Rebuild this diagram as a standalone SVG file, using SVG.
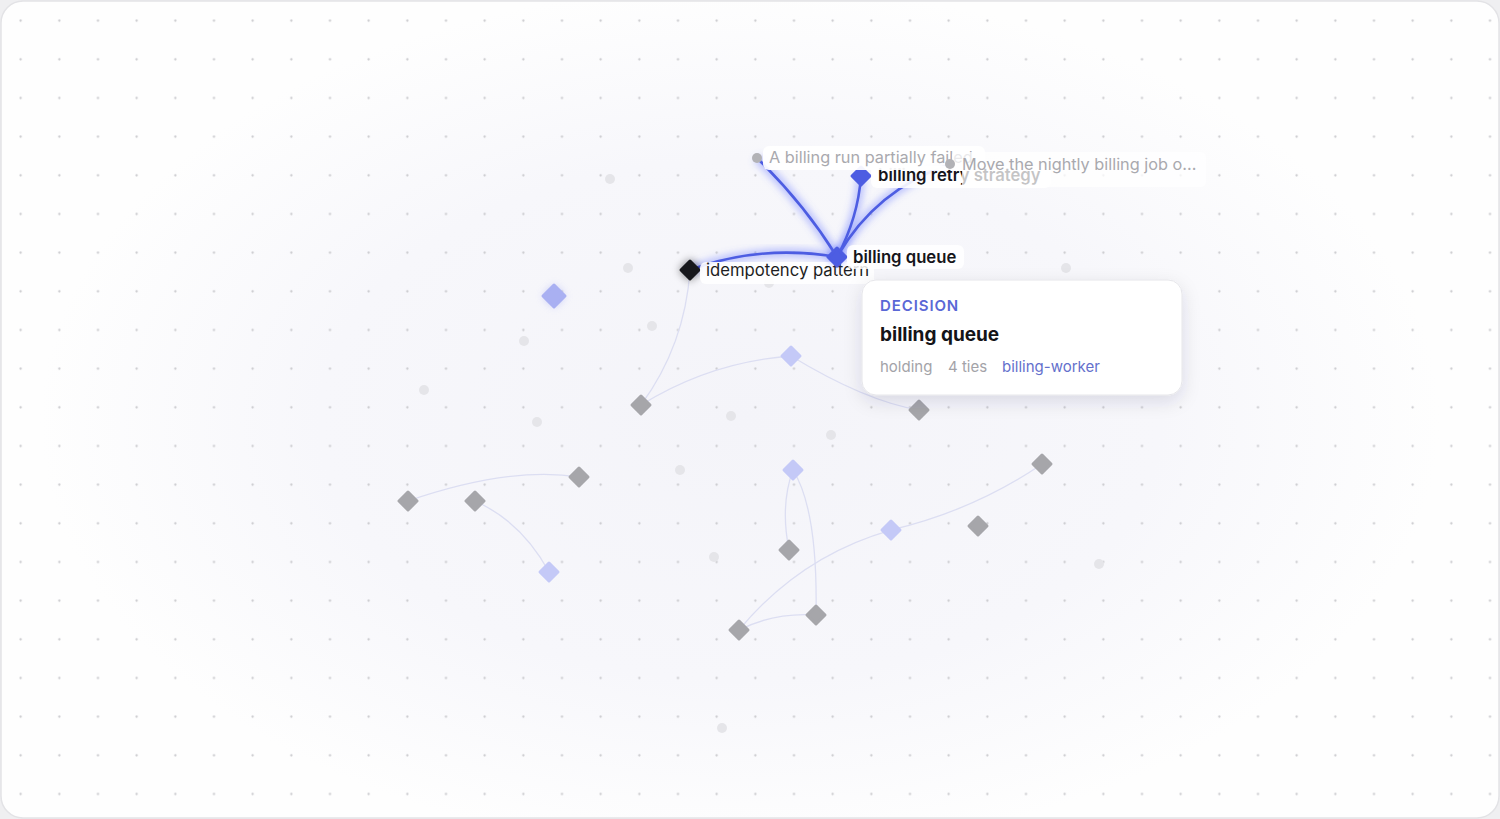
<svg xmlns="http://www.w3.org/2000/svg" width="1500" height="819" viewBox="0 0 1500 819">
<defs>
<style>
.lbl{font-family:Inter,"Liberation Sans",sans-serif;font-size:16.7px}
.dimtxt{fill:#a9a9ae;font-size:16.3px}
.strong{font-weight:600;fill:#15151a}
.dimedge{fill:none;stroke:#dcdef2;stroke-width:1.3}
.glow{fill:none;stroke:#6475ff;stroke-width:9;stroke-opacity:0.4;filter:url(#blur3)}
.hot{fill:none;stroke:#4d5de2;stroke-width:2.6;stroke-linecap:round}
.gd{fill:#a6a6aa;stroke:#a6a6aa}
.bd{fill:#c4c9f7;stroke:#c4c9f7}
.dia{stroke-width:3;stroke-linejoin:round}
.dot{fill:#e5e5e9}
.bg{fill:#ffffff}
.tt{font-family:Inter,"Liberation Sans",sans-serif}
</style>
<radialGradient id="bggrad" cx="740" cy="420" r="700" gradientUnits="userSpaceOnUse" gradientTransform="translate(740 420) scale(1 0.62) translate(-740 -420)">
<stop offset="0" stop-color="#f4f4f9"/>
<stop offset="0.6" stop-color="#f7f7fb"/>
<stop offset="1" stop-color="#fefefe"/>
</radialGradient>
<pattern id="grid" x="1.333" y="1.333" width="38.667" height="38.667" patternUnits="userSpaceOnUse">
<circle cx="19.333" cy="19.333" r="1.15" fill="#c9c9cd"/>
</pattern>
<filter id="blur3" x="-50%" y="-50%" width="200%" height="200%"><feGaussianBlur stdDeviation="3.5"/></filter>
<filter id="blur5" x="-100%" y="-100%" width="300%" height="300%"><feGaussianBlur stdDeviation="4"/></filter>
<filter id="shadow" x="-20%" y="-30%" width="140%" height="170%">
<feDropShadow dx="0" dy="6" stdDeviation="9" flood-color="#1a1a40" flood-opacity="0.12"/>
</filter>
<path id="dm" d="M0,-9 L9,0 L0,9 L-9,0 Z"/>
<path id="dmL" d="M0,-11 L11,0 L0,11 L-11,0 Z"/>
</defs>

<rect x="0" y="0" width="1500" height="819" fill="#efeff1"/>
<rect x="1" y="1" width="1498" height="817" rx="22" fill="url(#bggrad)" stroke="#e3e3e6" stroke-width="1.5"/>
<rect x="1" y="1" width="1498" height="817" rx="22" fill="url(#grid)"/>

<g id="connectors">
<path class="dimedge" d="M690,270 Q685,345 641,405"/>
<path class="dimedge" d="M641,405 Q710,362 791,356"/>
<path class="dimedge" d="M791,356 Q865,401 919,410"/>
<path class="dimedge" d="M408,501 Q510,466 579,477"/>
<path class="dimedge" d="M475,501 Q522,522 549,572"/>
<path class="dimedge" d="M793,470 Q780,505 789,550"/>
<path class="dimedge" d="M793,470 Q818,510 816,615"/>
<path class="dimedge" d="M739,630 Q775,612 816,615"/>
<path class="dimedge" d="M739,630 Q800,556 891,530"/>
<path class="dimedge" d="M891,530 Q975,510 1042,464"/>
<g id="hot-edges">
<path class="glow" d="M690,270 Q760,244 837,257"/>
<path class="glow" d="M837,257 Q805,205 757,158"/>
<path class="glow" d="M837,257 Q858,218 861,176"/>
<path class="glow" d="M837,257 Q875,190 950,164"/>
<path class="hot" d="M690,270 Q760,244 837,257"/>
<path class="hot" d="M837,257 Q805,205 757,158"/>
<path class="hot" d="M837,257 Q858,218 861,176"/>
<path class="hot" d="M837,257 Q875,190 950,164"/>
</g>
</g>

<g id="dim-dots">
<circle class="dot" cx="610" cy="179" r="5"/>
<circle class="dot" cx="628" cy="268" r="5"/>
<circle class="dot" cx="652" cy="326" r="5"/>
<circle class="dot" cx="524" cy="341" r="5"/>
<circle class="dot" cx="424" cy="390" r="5"/>
<circle class="dot" cx="537" cy="422" r="5"/>
<circle class="dot" cx="731" cy="416" r="5"/>
<circle class="dot" cx="831" cy="435" r="5"/>
<circle class="dot" cx="680" cy="470" r="5"/>
<circle class="dot" cx="714" cy="557" r="5"/>
<circle class="dot" cx="1099" cy="564" r="5"/>
<circle class="dot" cx="722" cy="728" r="5"/>
<circle class="dot" cx="1066" cy="268" r="5"/>
<circle class="dot" cx="769" cy="283" r="5"/>
</g>

<g id="n-blue-large">
<use href="#dmL" x="554" y="296" fill="#9aa3f5" opacity="0.6" filter="url(#blur5)"/>
<use href="#dmL" x="554" y="296" fill="#a9b0f2" stroke="#a9b0f2" class="dia"/>
</g>
<g id="n-g1"><use href="#dm" x="641" y="405" class="gd dia"/></g>
<g id="n-g2"><use href="#dm" x="919" y="410" class="gd dia"/></g>
<g id="n-g3"><use href="#dm" x="579" y="477" class="gd dia"/></g>
<g id="n-g4"><use href="#dm" x="408" y="501" class="gd dia"/></g>
<g id="n-g5"><use href="#dm" x="475" y="501" class="gd dia"/></g>
<g id="n-g6"><use href="#dm" x="789" y="550" class="gd dia"/></g>
<g id="n-g7"><use href="#dm" x="739" y="630" class="gd dia"/></g>
<g id="n-g8"><use href="#dm" x="816" y="615" class="gd dia"/></g>
<g id="n-g9"><use href="#dm" x="1042" y="464" class="gd dia"/></g>
<g id="n-g10"><use href="#dm" x="978" y="526" class="gd dia"/></g>
<g id="n-b1"><use href="#dm" x="791" y="356" class="bd dia"/></g>
<g id="n-b2"><use href="#dm" x="793" y="470" class="bd dia"/></g>
<g id="n-b3"><use href="#dm" x="549" y="572" class="bd dia"/></g>
<g id="n-b4"><use href="#dm" x="891" y="530" class="bd dia"/></g>

<g id="n-idempotency">
<use href="#dmL" x="690" y="270" fill="#000" opacity="0.5" filter="url(#blur5)"/>
<use href="#dm" x="690" y="270" fill="#17181c" stroke="#17181c" class="dia"/>
<rect class="bg" x="700" y="262" width="174" height="22" rx="6" opacity="0.9"/>
<text class="lbl" x="706" y="276" fill="#1d1d22">idempotency pattern</text>
</g>

<g id="n-billing-queue">
<use href="#dm" x="837" y="257" fill="#5b6cff" opacity="0.7" filter="url(#blur3)"/>
<use href="#dm" x="837" y="257" fill="#4d5de2" stroke="#4d5de2" class="dia"/>
<rect class="bg" x="847" y="245" width="117" height="24" rx="6" opacity="0.85"/>
<text class="lbl strong" x="853" y="263">billing queue</text>
</g>

<g id="n-billing-retry">
<use href="#dm" x="861" y="176" fill="#4d5de2" stroke="#4d5de2" class="dia"/>
<rect class="bg" x="871" y="166" width="180" height="22" rx="6" opacity="0.9"/>
<text class="lbl strong" x="878" y="181">billing retry strategy</text>
</g>

<g id="n-billing-run">
<rect class="bg" x="763" y="146" width="222" height="24" rx="6" opacity="0.94"/>
<circle cx="757" cy="158" r="5" fill="#b2b2b6"/>
<text class="lbl dimtxt" x="769" y="163">A billing run partially failed</text>
</g>

<g id="n-move-nightly">
<path class="bg" d="M956,152 H1200 Q1206,152 1206,158 V181 Q1206,187 1200,187 H962 V170 H952 V156 Q952,152 956,152 Z" opacity="0.75"/>
<circle cx="950" cy="164" r="5" fill="#b2b2b6"/>
<text class="lbl dimtxt" x="962" y="170">Move the nightly billing job o...</text>
</g>

<g id="tooltip">
<rect x="862" y="280" width="320" height="115" rx="14" fill="#ffffff" stroke="#e6e6ea" stroke-width="1" filter="url(#shadow)"/>
<text class="tt" x="880" y="311" font-size="15" font-weight="600" letter-spacing="0.9" fill="#5a68d6">DECISION</text>
<text class="tt" x="880" y="341" font-size="19" font-weight="700" fill="#141418">billing queue</text>
<text class="tt" x="880" y="372" font-size="15" fill="#a3a3a8">holding</text>
<text class="tt" x="948" y="372" font-size="15" fill="#a3a3a8">4 ties</text>
<text class="tt" x="1002" y="372" font-size="15" fill="#6470cc">billing-worker</text>
</g>
</svg>
